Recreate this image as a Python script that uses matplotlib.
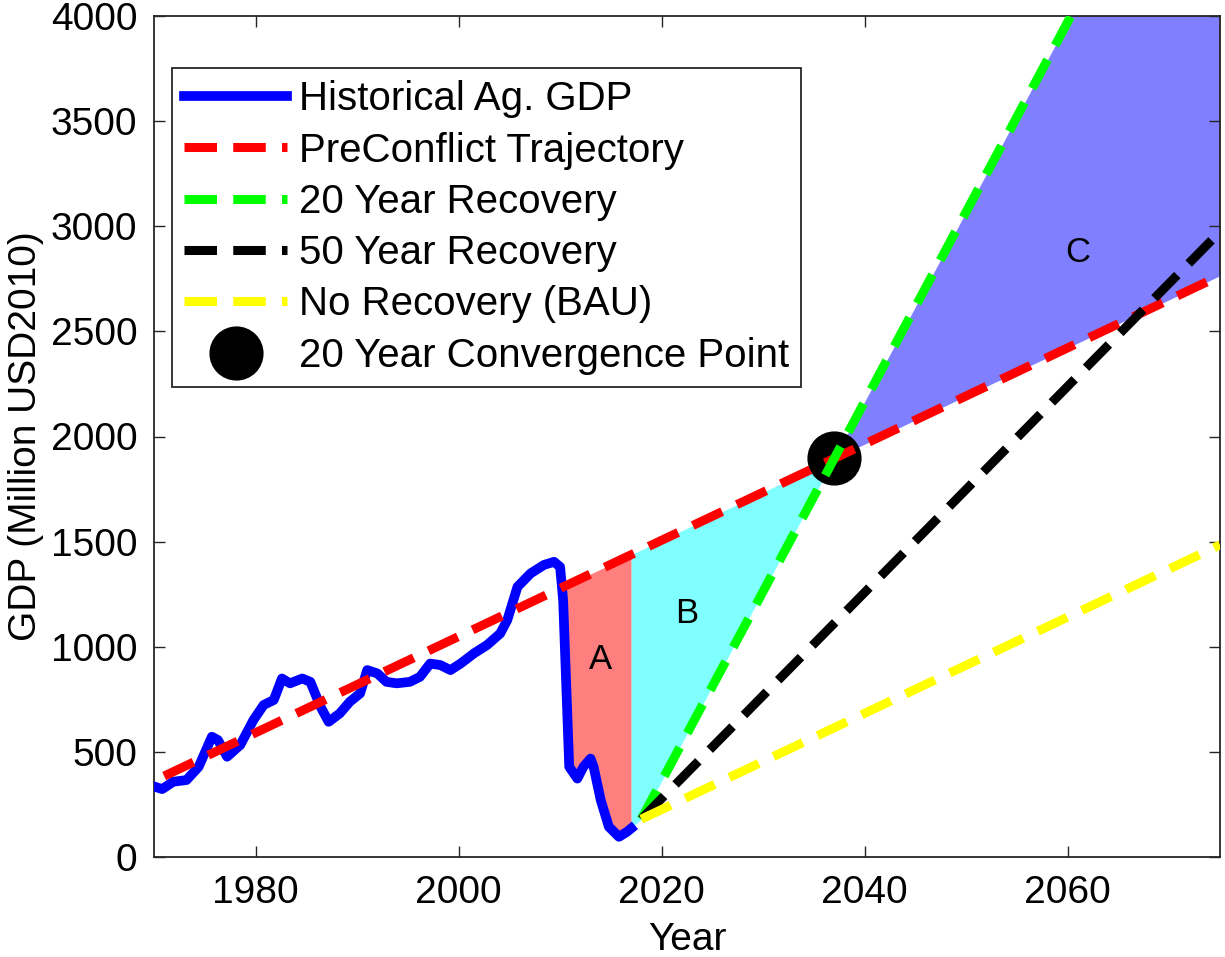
import numpy as np
import matplotlib
matplotlib.use("Agg")
import matplotlib.pyplot as plt

plt.rcParams['font.family'] = ['Liberation Sans', 'DejaVu Sans']

# historical agricultural GDP (million USD2010)
hist_years = np.array([1970.1, 1970.8, 1971.9, 1973.2, 1974.4, 1975.7, 1976.3, 1977.2,
                       1978.5, 1979.8, 1980.8, 1981.8, 1982.6, 1983.4, 1984.6, 1985.4,
                       1986.4, 1987.2, 1988.3, 1989.3, 1990.3, 1991.0, 1992.0, 1992.9,
                       1993.9, 1995.2, 1996.2, 1997.2, 1998.2, 1999.2, 2000.2, 2001.5,
                       2002.8, 2004.1, 2004.8, 2005.8, 2007.1, 2008.4, 2009.4, 2010.0,
                       2010.3, 2010.6, 2010.9, 2011.7, 2012.3, 2013.0, 2013.3, 2014.0,
                       2014.8, 2015.8, 2016.6, 2017.0])
hist_gdp = np.array([334, 323, 358, 366, 429, 572, 556, 477,
                     533, 652, 723, 747, 849, 826, 849, 833,
                     715, 643, 683, 739, 778, 889, 873, 833,
                     826, 833, 857, 920, 913, 889, 920, 968,
                     1008, 1063, 1127, 1285, 1349, 1389, 1404, 1380,
                     1222, 826, 429, 373, 429, 468, 429, 271,
                     144, 96, 120, 136])

# pre-conflict linear trend (end points)
trend_years = np.array([1971, 2075])
trend_gdp = np.array([385, 2765])

# scenario settings
proj_start_year = 2018
proj_start_gdp = 180
conv20_year = 2037
conv50_year = 2067
end_year = 2075

labels = ['Historical Ag. GDP', 'PreConflict Trajectory', '20 Year Recovery',
          '50 Year Recovery', 'No Recovery (BAU)', '20 Year Convergence Point']

trend_slope = (trend_gdp[1] - trend_gdp[0]) / (trend_years[1] - trend_years[0])


def trend(t):
    return trend_gdp[0] + (np.asarray(t) - trend_years[0]) * trend_slope


conv20_gdp = float(trend(conv20_year))
conv50_gdp = float(trend(conv50_year))

proj_x = np.array([proj_start_year, end_year])
slope20 = (conv20_gdp - proj_start_gdp) / (conv20_year - proj_start_year)
slope50 = (conv50_gdp - proj_start_gdp) / (conv50_year - proj_start_year)
rec20 = proj_start_gdp + slope20 * (proj_x - proj_start_year)
rec50 = proj_start_gdp + slope50 * (proj_x - proj_start_year)
bau = proj_start_gdp + trend_slope * (proj_x - proj_start_year)

fig = plt.figure(figsize=(12.25, 9.57), dpi=100)
ax = fig.add_axes([154 / 1225, 100 / 957, 1066 / 1225, 841 / 957])

# area A: lost output since the conflict began
mask = hist_years >= 2009.4
xa = hist_years[mask]
ax.fill_between(xa, hist_gdp[mask], trend(xa), where=hist_gdp[mask] <= trend(xa),
                interpolate=True, color='#ff7f7f', lw=0, zorder=1)

# area B: recovery gap up to convergence
xb = np.array([hist_years[-1], proj_start_year, conv20_year])
lowb = np.array([hist_gdp[-1], proj_start_gdp, conv20_gdp])
ax.fill_between(xb, lowb, trend(xb), color='#7fffff', lw=0, zorder=1)

# area C: growth above the pre-conflict path
xc = np.linspace(conv20_year, end_year, 50)
ax.fill_between(xc, trend(xc), proj_start_gdp + slope20 * (xc - proj_start_year),
                color='#7f7fff', lw=0, zorder=1)

dash = (3.6, 1.8)
lw = 6.5
h_conv, = ax.plot([conv20_year], [conv20_gdp], 'o', color='k', ms=38, zorder=2)
h_hist, = ax.plot(hist_years, hist_gdp, color='#0000ff', lw=7, zorder=3)
h_pre, = ax.plot(trend_years, trend_gdp, color='#ff0000', lw=lw, dashes=dash,
                 dash_capstyle='butt', zorder=4)
h_20, = ax.plot(proj_x, rec20, color='#00ff00', lw=lw, dashes=dash,
                dash_capstyle='butt', zorder=5)
h_50, = ax.plot(proj_x, rec50, color='k', lw=lw, dashes=dash,
                dash_capstyle='butt', zorder=6)
h_bau, = ax.plot(proj_x, bau, color='#ffff00', lw=lw, dashes=dash,
                 dash_capstyle='butt', zorder=7)

ax.text(2014.0, 937, 'A', fontsize=25, ha='center', va='center', zorder=8)
ax.text(2022.5, 1160, 'B', fontsize=25, ha='center', va='center', zorder=8)
ax.text(2061.0, 2873, 'C', fontsize=25, ha='center', va='center', zorder=8)

ax.set_xlim(1970, 2075)
ax.set_ylim(0, 4000)
ax.set_xticks(np.arange(1980, 2061, 20))
ax.set_yticks(np.arange(0, 4001, 500))
ax.tick_params(direction='in', top=True, right=True, length=8, width=1,
               labelsize=28, color='#262626')
ax.tick_params(axis='x', pad=13)
ax.tick_params(axis='y', pad=12)
for s in ax.spines.values():
    s.set_linewidth(1.3)
    s.set_color('#262626')

ax.set_xlabel('Year', fontsize=28, labelpad=8)
ax.set_ylabel('GDP (Million USD2010)', fontsize=28, labelpad=5)

leg = ax.legend([h_hist, h_pre, h_20, h_50, h_bau, h_conv], labels,
                loc='upper left', bbox_to_anchor=(0.017, 0.938), borderaxespad=0,
                fontsize=29, handlelength=2.55, handletextpad=0.3,
                labelspacing=0.33, borderpad=0.3, fancybox=False,
                framealpha=1, edgecolor='#262626', numpoints=1)
leg.get_frame().set_linewidth(1.3)

fig.savefig('out.png', dpi=100)
